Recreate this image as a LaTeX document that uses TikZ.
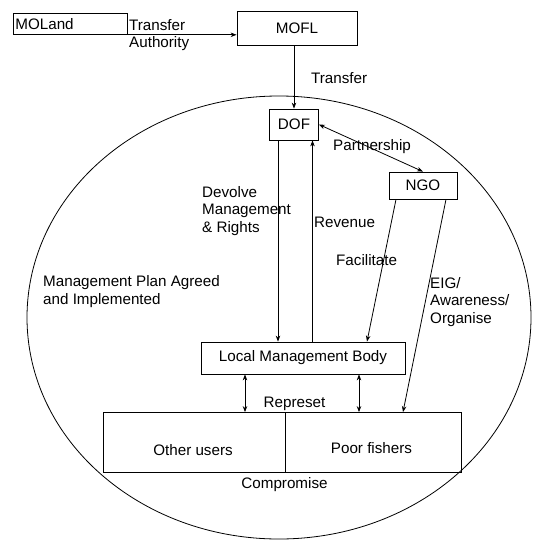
\documentclass[tikz,border=0pt]{standalone}
\usepackage{fontspec}
\setmainfont{Liberation Sans}
\usetikzlibrary{arrows.meta}
\begin{document}
\begin{tikzpicture}[x=1pt,y=-1pt,
  every node/.style={font=\fontsize{15.2}{17.5}\selectfont},
  box/.style={draw, line width=0.8pt, inner sep=0pt},
  lbl/.style={inner sep=0pt, anchor=base west, align=left},
  conn/.style={line width=0.8pt, -{Stealth[length=6pt,width=4.5pt]}},
  dconn/.style={line width=0.8pt, {Stealth[length=6pt,width=4.5pt]}-{Stealth[length=6pt,width=4.5pt]}}]
\useasboundingbox (0,0) rectangle (550,551);
% boundary
\draw[line width=0.8pt] (279,317.5) ellipse [x radius=252, y radius=221.5];
% boxes
\node[box, inner xsep=2pt, minimum height=21pt, text width=110pt, align=left, anchor=north west] (moland) at (13,13) {MOLand};
\node[box, minimum width=120pt, minimum height=34pt] (mofl) at (297,28) {MOFL};
\node[box, minimum width=49pt, minimum height=31pt] (dof) at (294,124.5) {DOF};
\node[box, minimum width=68pt, minimum height=27pt] (ngo) at (423,185.5) {NGO};
\node[box, minimum width=204pt, minimum height=32pt] (lmb) at (303,358) {Local Management Body};
\node[box, minimum width=182pt, minimum height=60pt] (other) at (194,442.5) {};
\node[box, minimum width=176pt, minimum height=60pt] (poor) at (373,442.5) {};
\node[lbl, anchor=base] (othert) at (193,455) {Other users};
\node[lbl, anchor=base] (poort) at (371.5,453) {Poor fishers};
% connectors
\draw[conn] (moland.south east) -- (moland.south east -| mofl.west);
\draw[conn] (dof.north |- mofl.south) -- (dof.north);
\draw[dconn] (dof.east) -- (ngo.north);
\draw[conn] ([xshift=-16pt]dof.south) -- ([xshift=-16pt]dof.south |- lmb.north);
\draw[conn] ([xshift=18.5pt]dof.south |- lmb.north) -- ([xshift=18.5pt]dof.south);
\draw[conn] ([xshift=-27pt]ngo.south) -- ([xshift=64pt]lmb.north);
\draw[conn] ([xshift=23pt]ngo.south) -- ([xshift=30pt]poor.north);
\draw[dconn] ([xshift=-58pt]lmb.south) -- ([xshift=-58pt]lmb.south |- other.north);
\draw[dconn] ([xshift=56pt]lmb.south) -- ([xshift=56pt]lmb.south |- poor.north);
% labels (base = baseline of last line)
\node[lbl] (tauth) at (129,48) {Transfer\\Authority};
\node[lbl] (ttrans) at (311,83) {Transfer};
\node[lbl] (tpart) at (333,150) {Partnership};
\node[lbl] (tdev) at (202,232) {Devolve\\Management\\\& Rights};
\node[lbl] (trev) at (314,227) {Revenue};
\node[lbl] (tfac) at (336,265) {Facilitate};
\node[lbl] (teig) at (430,323) {EIG/\\Awareness/\\Organise};
\node[lbl] (tplan) at (43,304) {Management Plan Agreed\\and Implemented};
\node[lbl, anchor=base] (trep) at (294.5,407) {Represet};
\node[lbl, anchor=base] (tcomp) at (284.5,488) {Compromise};
\end{tikzpicture}
\end{document}
